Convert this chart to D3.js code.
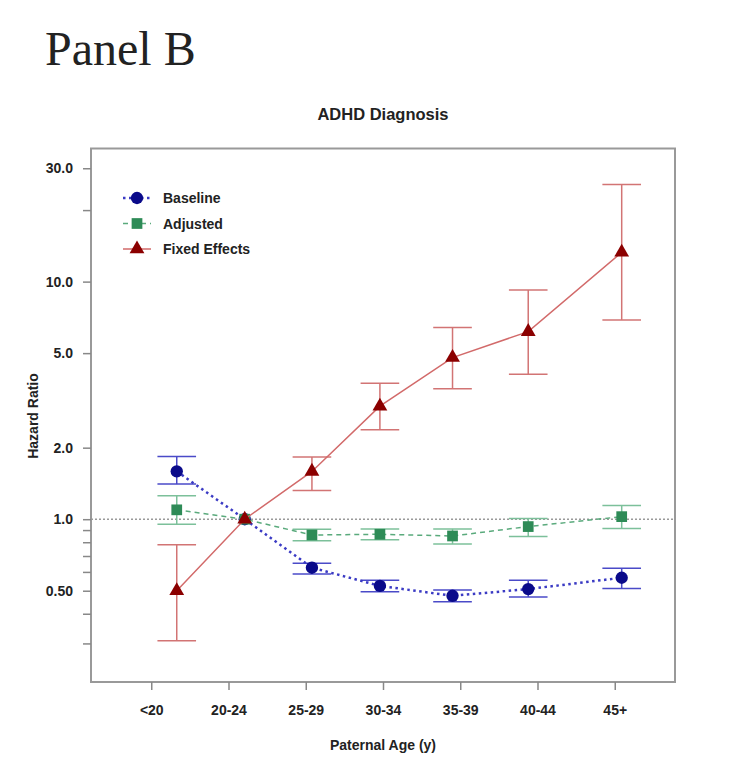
<!DOCTYPE html>
<html>
<head>
<meta charset="utf-8">
<script src="https://cdn.jsdelivr.net/npm/d3@7/dist/d3.min.js"></script>
<style>
  body { margin: 0; background: #fff; }
  text { font-family: "Liberation Sans", Arial, sans-serif; fill: #222; }
  .tick text { font-weight: bold; font-size: 14px; }
  .tick line { stroke: #888; stroke-width: 1.5; }
</style>
</head>
<body>
<div id="viewportContainer"></div>
<script>
/* --- データ --- */
const categories = ["<20", "20-24", "25-29", "30-34", "35-39", "40-44", "45+"];
// 点の横位置 (カテゴリ番号 1..7 の単位)
const xPos = [1.33, 2.21, 3.08, 3.96, 4.90, 5.88, 7.09];

const baselineHR = [1.59, 1.0, 0.625, 0.524, 0.476, 0.508, 0.567];
const baselineLo = [1.405, null, 0.588, 0.495, 0.449, 0.471, 0.511];
const baselineHi = [1.838, null, 0.652, 0.554, 0.503, 0.554, 0.621];

const adjustedHR = [1.095, 1.0, 0.858, 0.864, 0.850, 0.931, 1.025];
const adjustedLo = [0.953, null, 0.812, 0.820, 0.787, 0.845, 0.913];
const adjustedHi = [1.254, null, 0.907, 0.910, 0.910, 1.006, 1.141];

const fixedHR = [0.50, 1.0, 1.589, 2.99, 4.79, 6.16, 13.28];
const fixedLo = [0.308, null, 1.321, 2.38, 3.54, 4.07, 6.90];
const fixedHi = [0.781, null, 1.827, 3.73, 6.41, 9.21, 25.6];

const yMajor = [0.5, 1, 2, 5, 10, 30];
const yMajorLabels = ["0.50", "1.0", "2.0", "5.0", "10.0", "30.0"];
const yMinor = [0.3, 0.4, 0.6, 0.7, 0.8, 0.9, 20];

/* --- ビューポート --- */
const width = 747, height = 764;
const box = {left: 91, right: 675, top: 148.5, bottom: 682};

const svg = d3.select("#viewportContainer").append("svg")
    .attr("width", width)
    .attr("height", height);

/*--- スケール (R 風に 4% 余白) ---*/
const xLim = [0.5, 7.5];
const xPad = (xLim[1] - xLim[0]) * 0.04;
const xScale = d3.scaleLinear()
    .domain([xLim[0] - xPad, xLim[1] + xPad])
    .range([box.left, box.right]);

const yLim = [Math.log10(0.25), Math.log10(30)];
const yPad = (yLim[1] - yLim[0]) * 0.04;
const yScale = d3.scaleLog()
    .domain([Math.pow(10, yLim[0] - yPad), Math.pow(10, yLim[1] + yPad)])
    .range([box.bottom, box.top]);

/*--- 系列 ---*/
const series = [
    {name: "Baseline", hr: baselineHR, lo: baselineLo, hi: baselineHi,
     shape: "circle", fill: "#0a0a8a", line: "#3b3bc4", dash: "2.5,3.5", lw: 2.5, bar: "#4a4ac8"},
    {name: "Adjusted", hr: adjustedHR, lo: adjustedLo, hi: adjustedHi,
     shape: "square", fill: "#2e8b57", line: "#5aaa7c", dash: "5,4", lw: 1.5, bar: "#7cc09a"},
    {name: "Fixed Effects", hr: fixedHR, lo: fixedLo, hi: fixedHi,
     shape: "triangle", fill: "#8b0000", line: "#d26a6a", dash: null, lw: 1.5, bar: "#d27474"}
];

const symbolOf = {circle: d3.symbolCircle, square: d3.symbolSquare, triangle: d3.symbolTriangle};
const sizeOf = {circle: 120, square: 115, triangle: 95};

/*--- 参照線 HR=1 ---*/
svg.append("line")
    .attr("x1", box.left).attr("x2", box.right)
    .attr("y1", yScale(1)).attr("y2", yScale(1))
    .attr("stroke", "#999").attr("stroke-width", 1.5)
    .attr("stroke-dasharray", "2,2");

const capHalf = 0.25;

series.forEach(s => {
    const g = svg.append("g").attr("class", "series");
    const pts = categories.map((c, i) => ({x: xPos[i], hr: s.hr[i], lo: s.lo[i], hi: s.hi[i]}));

    // 誤差棒
    const ci = pts.filter(d => d.lo !== null);
    g.selectAll(".bar").data(ci).enter().append("line")
        .attr("x1", d => xScale(d.x)).attr("x2", d => xScale(d.x))
        .attr("y1", d => yScale(d.lo)).attr("y2", d => yScale(d.hi))
        .attr("stroke", s.bar).attr("stroke-width", 1.5);
    ["lo", "hi"].forEach(k => {
        g.selectAll(".cap-" + k).data(ci).enter().append("line")
            .attr("x1", d => xScale(d.x - capHalf)).attr("x2", d => xScale(d.x + capHalf))
            .attr("y1", d => yScale(d[k])).attr("y2", d => yScale(d[k]))
            .attr("stroke", s.bar).attr("stroke-width", 1.5);
    });

    // 折れ線
    const line = d3.line().x(d => xScale(d.x)).y(d => yScale(d.hr));
    g.append("path").datum(pts)
        .attr("d", line)
        .attr("fill", "none")
        .attr("stroke", s.line)
        .attr("stroke-width", s.lw)
        .attr("stroke-dasharray", s.dash);

    // 点
    g.selectAll(".pt").data(pts).enter().append("path")
        .attr("transform", d => "translate(" + xScale(d.x) + "," + yScale(d.hr) + ")")
        .attr("d", d3.symbol().type(symbolOf[s.shape]).size(sizeOf[s.shape]))
        .attr("fill", s.fill);
});

/*--- 枠 ---*/
svg.append("rect")
    .attr("x", box.left).attr("y", box.top)
    .attr("width", box.right - box.left).attr("height", box.bottom - box.top)
    .attr("fill", "none").attr("stroke", "#999").attr("stroke-width", 2);

/*--- 軸 ---*/
const yAxis = d3.axisLeft(yScale).tickValues(yMajor)
    .tickFormat((d, i) => yMajorLabels[i]).tickSize(8).tickPadding(10);
svg.append("g").attr("transform", "translate(" + box.left + ",0)").call(yAxis)
    .call(g => g.select(".domain").remove());

const yAxisMinor = d3.axisLeft(yScale).tickValues(yMinor).tickFormat("").tickSize(8);
svg.append("g").attr("transform", "translate(" + box.left + ",0)").call(yAxisMinor)
    .call(g => g.select(".domain").remove());

const xAxis = d3.axisBottom(xScale).tickValues(d3.range(1, categories.length + 1))
    .tickFormat((d, i) => categories[i]).tickSize(8).tickPadding(15);
svg.append("g").attr("transform", "translate(0," + box.bottom + ")").call(xAxis)
    .call(g => g.select(".domain").remove());

svg.selectAll(".tick text").attr("fill", "#222");

/*--- タイトル・ラベル ---*/
svg.append("text")
    .attr("x", 45).attr("y", 65)
    .style("font-family", "'Liberation Serif', 'Times New Roman', serif")
    .style("font-size", "48px")
    .text("Panel B");

svg.append("text")
    .attr("x", (box.left + box.right) / 2).attr("y", 120)
    .attr("text-anchor", "middle")
    .style("font-weight", "bold").style("font-size", "16.5px")
    .text("ADHD Diagnosis");

svg.append("text")
    .attr("x", (box.left + box.right) / 2).attr("y", 750)
    .attr("text-anchor", "middle")
    .style("font-weight", "bold").style("font-size", "14px")
    .text("Paternal Age (y)");

svg.append("text")
    .attr("transform", "translate(38,416) rotate(-90)")
    .attr("text-anchor", "middle")
    .style("font-weight", "bold").style("font-size", "14px")
    .text("Hazard Ratio");

/*--- 凡例 ---*/
const legend = svg.append("g").attr("transform", "translate(137,198)");
series.forEach((s, i) => {
    const row = legend.append("g").attr("transform", "translate(0," + (i * 25.5) + ")");
    row.append("line")
        .attr("x1", -14).attr("x2", 14)
        .attr("stroke", s.line).attr("stroke-width", s.lw)
        .attr("stroke-dasharray", s.dash);
    row.append("path")
        .attr("d", d3.symbol().type(symbolOf[s.shape]).size(sizeOf[s.shape]))
        .attr("fill", s.fill);
    row.append("text")
        .attr("x", 26).attr("y", 5)
        .style("font-weight", "bold").style("font-size", "14px")
        .text(s.name);
});
</script>
</body>
</html>
